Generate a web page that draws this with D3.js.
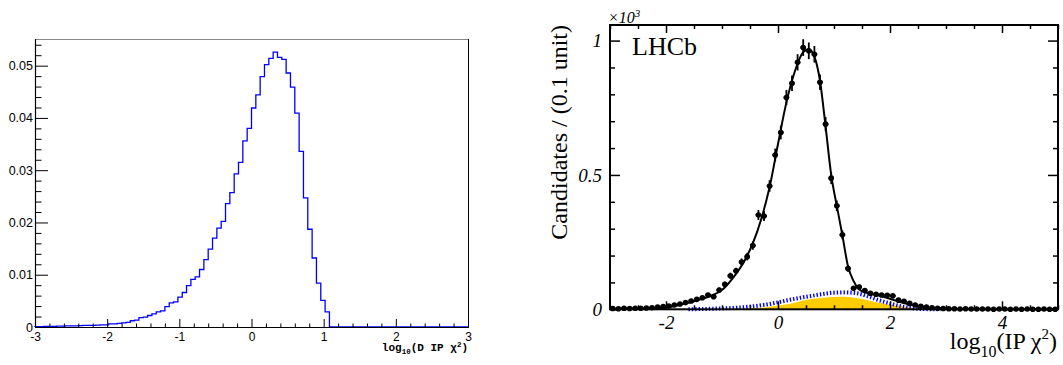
<!DOCTYPE html>
<html>
<head>
<meta charset="utf-8">
<script src="https://cdn.jsdelivr.net/npm/d3@7"></script>
<style>
  html, body { margin: 0; padding: 0; background: #fff; }
  svg { display: block; }
</style>
</head>
<body>
<svg id="chart" width="1063" height="365"></svg>
<script>
// ---------------- Left panel: normalised log10(D IP chi2) distribution ----------------
const histLow = -3, histBinWidth = 0.06;
const histValues = [
  0.00005, 0.00005, 0.0001, 0.0001, 0.0001, 0.00015, 0.00015, 0.0002, 0.0002, 0.0002,
  0.00025, 0.0003, 0.0003, 0.0003, 0.00035, 0.0004, 0.0004, 0.0006, 0.0006, 0.0007,
  0.0008, 0.0009, 0.0012, 0.0013, 0.0018, 0.0019, 0.0022, 0.0025, 0.0029, 0.0031,
  0.0039, 0.0046, 0.0048, 0.0057, 0.0066, 0.0079, 0.0091, 0.0096, 0.0110, 0.0129,
  0.0149, 0.0170, 0.0189, 0.0202, 0.0236, 0.0257, 0.0293, 0.0315, 0.0356, 0.0380,
  0.0419, 0.0444, 0.0479, 0.0502, 0.0514, 0.0526, 0.0516, 0.0512, 0.0486, 0.0459,
  0.0409, 0.0336, 0.0247, 0.0187, 0.0132, 0.0084, 0.0051, 0.0029, 0, 0,
  0, 0, 0, 0, 0, 0, 0, 0, 0, 0,
  0, 0, 0, 0, 0, 0, 0, 0, 0, 0,
  0, 0, 0, 0, 0, 0, 0, 0, 0, 0
];
const leftYTicks = [0, 0.01, 0.02, 0.03, 0.04, 0.05];
const leftYTickLabels = ["0", "0.01", "0.02", "0.03", "0.04", "0.05"];
const leftXTicks = [-3, -2, -1, 0, 1, 2, 3];
const leftXTickLabels = ["-3", "-2", "-1", "0", "1", "2", "3"];

// ---------------- Right panel: LHCb fit to log10(IP chi2) ----------------
const dataLow = -3, dataBinWidth = 0.1;
// candidates per 0.1 unit, in units of 10^3
const candidates = [
  0.003, 0.002, 0.004, 0.003, 0.004, 0.004, 0.005, 0.006, 0.008, 0.010,
  0.012, 0.016, 0.020, 0.025, 0.031, 0.037, 0.043, 0.053, 0.047, 0.072,
  0.093, 0.125, 0.143, 0.176, 0.196, 0.237, 0.351, 0.347, 0.459, 0.574,
  0.658, 0.788, 0.841, 0.919, 0.974, 0.962, 0.949, 0.845, 0.689, 0.488,
  0.385, 0.277, 0.152, 0.078, 0.083, 0.070, 0.060, 0.056, 0.053, 0.052,
  0.050, 0.034, 0.030, 0.022, 0.016, 0.011, 0.008, 0.006, 0.004, 0.003,
  0.002, 0.002, 0.001, 0.002, 0.001, 0.001, 0.001, 0.001, 0.000, 0.001,
  0.001, 0.000, 0.001, 0.000, 0.001, 0.000, 0.000, 0.001, 0.000, 0.000
];
// total fit
const fitX = [-3.0, -2.5, -2.2, -2.0, -1.8, -1.6, -1.4, -1.2, -1.0, -0.8, -0.6, -0.45, -0.3, -0.15,
  0.0, 0.15, 0.3, 0.45, 0.55, 0.65, 0.75, 0.85, 0.95, 1.05, 1.15, 1.25, 1.35, 1.45, 1.6, 1.8,
  2.0, 2.2, 2.4, 2.6, 2.8, 3.0, 3.5, 4.0, 5.0];
const fitY = [0.001, 0.002, 0.004, 0.007, 0.014, 0.024, 0.036, 0.050, 0.072, 0.118, 0.180, 0.245, 0.335, 0.455,
  0.615, 0.770, 0.885, 0.957, 0.968, 0.940, 0.850, 0.680, 0.500, 0.385, 0.275, 0.160, 0.105, 0.074, 0.060, 0.051,
  0.039, 0.026, 0.015, 0.008, 0.004, 0.002, 0.001, 0.0005, 0.0003];
// combinatorial background component (dashed)
const bkgX = [-1.6, -1.2, -0.8, -0.5, -0.2, 0.0, 0.2, 0.4, 0.6, 0.8, 1.0, 1.2, 1.4, 1.6, 1.8, 2.0, 2.2, 2.4, 2.6, 2.9];
const bkgY = [0.000, 0.002, 0.005, 0.010, 0.018, 0.026, 0.035, 0.043, 0.050, 0.057, 0.062, 0.063, 0.060, 0.049, 0.034, 0.022, 0.011, 0.004, 0.001, 0.000];
// secondary component (filled)
const secX = [-0.8, -0.5, -0.2, 0.0, 0.2, 0.4, 0.6, 0.8, 1.0, 1.2, 1.4, 1.6, 1.8, 2.0, 2.2, 2.4, 2.6, 2.8];
const secY = [0.000, 0.003, 0.008, 0.014, 0.020, 0.030, 0.038, 0.043, 0.046, 0.047, 0.042, 0.034, 0.024, 0.017, 0.011, 0.006, 0.003, 0.000];

const rightXTicks = [-2, 0, 2, 4];
const rightXTickLabels = ["-2", "0", "2", "4"];
const rightYTicks = [0, 0.5, 1];
const rightYTickLabels = ["0", "0.5", "1"];

const svg = d3.select("#chart");
svg.append("rect").attr("width", 1063).attr("height", 365).attr("fill", "#fff");

// ===================== left panel =====================
const L = { left: 35, right: 468, top: 39, bottom: 327 };
const xL = d3.scaleLinear().domain([-3, 3]).range([L.left, L.right]);
const yL = d3.scaleLinear().domain([0, 0.0551]).range([L.bottom, L.top]);

const gL = svg.append("g");

// frame
gL.append("line").attr("x1", L.left).attr("x2", L.right).attr("y1", L.top + 0.5).attr("y2", L.top + 0.5)
  .attr("stroke", "#888").attr("stroke-width", 1);
gL.append("line").attr("x1", L.right + 0.5).attr("x2", L.right + 0.5).attr("y1", L.top).attr("y2", L.bottom)
  .attr("stroke", "#000").attr("stroke-width", 1);

// histogram as a step line
const histPts = [[histLow, 0]];
histValues.forEach((v, i) => histPts.push([histLow + i * histBinWidth, v]));
histPts.push([histLow + histValues.length * histBinWidth, histValues[histValues.length - 1]]);
gL.append("path")
  .attr("d", d3.line().x(d => xL(d[0])).y(d => yL(d[1])).curve(d3.curveStepAfter)(histPts))
  .attr("fill", "none").attr("stroke", "#0000ff").attr("stroke-width", 1.3);

// axes
function styleAxis(g, font, size, style) {
  g.attr("font-family", font).attr("font-size", size);
  g.selectAll(".domain").remove();
  g.selectAll("line").attr("stroke", "#000");
  if (style) g.selectAll("text").attr("font-style", style);
  g.selectAll("text").attr("fill", "#000");
}
const sansFont = "'Liberation Sans', Arial, Helvetica, sans-serif";
const serifFont = "'Liberation Serif', 'Times New Roman', serif";

const lyMinor = d3.range(0, 0.0551, 0.002).filter(v => Math.abs(v / 0.01 - Math.round(v / 0.01)) > 1e-6);
gL.append("g").attr("transform", `translate(${L.left},0)`)
  .call(d3.axisLeft(yL).tickValues(lyMinor).tickSizeInner(-6.5).tickSizeOuter(0).tickFormat(""))
  .call(g => styleAxis(g, sansFont, 12));
gL.append("g").attr("transform", `translate(${L.left},0)`)
  .call(d3.axisLeft(yL).tickValues(leftYTicks).tickSizeInner(-13).tickSizeOuter(0).tickPadding(2)
    .tickFormat((d, i) => leftYTickLabels[i]))
  .call(g => styleAxis(g, sansFont, 12.5));
// keep the zero label clear of the x labels below it
gL.selectAll("text").filter(function () { return this.textContent === "0" && d3.select(this.parentNode).attr("transform") === `translate(0,${yL(0)})`; })
  .attr("dy", "0.2em");

const lxMinor = d3.range(-3, 3.001, 0.2).filter(v => Math.abs(v - Math.round(v)) > 1e-6);
gL.append("g").attr("transform", `translate(0,${L.bottom})`)
  .call(d3.axisBottom(xL).tickValues(lxMinor).tickSizeInner(-3.5).tickSizeOuter(0).tickFormat(""))
  .call(g => styleAxis(g, sansFont, 12));
gL.append("g").attr("transform", `translate(0,${L.bottom})`)
  .call(d3.axisBottom(xL).tickValues(leftXTicks).tickSizeInner(-8).tickSizeOuter(0).tickPadding(5)
    .tickFormat((d, i) => leftXTickLabels[i]))
  .call(g => styleAxis(g, sansFont, 12));

// axis lines
gL.append("line").attr("x1", L.left + 0.5).attr("x2", L.left + 0.5).attr("y1", L.top).attr("y2", L.bottom)
  .attr("stroke", "#000").attr("stroke-width", 1.2);
gL.append("line").attr("x1", L.left).attr("x2", L.right + 1).attr("y1", L.bottom + 0.5).attr("y2", L.bottom + 0.5)
  .attr("stroke", "#000").attr("stroke-width", 1.2);

// x title
const tL = gL.append("text").attr("x", L.right).attr("y", 351).attr("text-anchor", "end")
  .attr("font-family", "'Liberation Mono', 'Courier New', monospace").attr("font-weight", "bold")
  .attr("font-size", 11).attr("fill", "#000");
tL.append("tspan").text("log");
tL.append("tspan").attr("font-size", 7.5).attr("dy", 3).text("10");
tL.append("tspan").attr("font-size", 11).attr("dy", -3).text("(D IP \u03c7");
tL.append("tspan").attr("font-size", 7.5).attr("dy", -4).text("2");
tL.append("tspan").attr("font-size", 11).attr("dy", 4).text(")");

// ===================== right panel =====================
const R = { left: 610, right: 1058, top: 25, bottom: 309.3 };
const xR = d3.scaleLinear().domain([-3, 5]).range([R.left, R.right]);
const yR = d3.scaleLinear().domain([0, 1.058]).range([R.bottom, R.top]);
const gR = svg.append("g");

// filled component
gR.append("path")
  .attr("d", d3.area().x((d, i) => xR(secX[i])).y0(yR(0)).y1(d => yR(d)).curve(d3.curveMonotoneX)(secY))
  .attr("fill", "#ffcc00").attr("stroke", "none");

// dashed background component
gR.append("path")
  .attr("d", d3.line().x((d, i) => xR(bkgX[i])).y(d => yR(d)).curve(d3.curveMonotoneX)(bkgY))
  .attr("fill", "none").attr("stroke", "#0000ff").attr("stroke-width", 4)
  .attr("stroke-dasharray", "1.4,2");

// data points with error bars
const pts = candidates.map((v, i) => ({
  x: dataLow + (i + 0.5) * dataBinWidth,
  y: v,
  e: Math.sqrt(v * 1000) / 1000
}));
const gP = gR.append("g").attr("stroke", "#000").attr("stroke-width", 1.8);
gP.selectAll("line.h").data(pts).join("line").attr("class", "h")
  .attr("x1", d => xR(d.x - dataBinWidth / 2)).attr("x2", d => xR(d.x + dataBinWidth / 2))
  .attr("y1", d => yR(d.y)).attr("y2", d => yR(d.y));
gP.selectAll("line.v").data(pts).join("line").attr("class", "v")
  .attr("x1", d => xR(d.x)).attr("x2", d => xR(d.x))
  .attr("y1", d => yR(d.y - d.e)).attr("y2", d => yR(d.y + d.e));
gR.selectAll("circle").data(pts).join("circle")
  .attr("cx", d => xR(d.x)).attr("cy", d => yR(d.y)).attr("r", 2.8).attr("fill", "#000");

// total fit
gR.append("path")
  .attr("d", d3.line().x((d, i) => xR(fitX[i])).y(d => yR(d)).curve(d3.curveMonotoneX)(fitY))
  .attr("fill", "none").attr("stroke", "#000").attr("stroke-width", 2);

// ticks on all four sides
const rxMinor = d3.range(-3, 5.001, 0.5).filter(v => !rightXTicks.includes(v));
const ryMinor = d3.range(0.1, 1.05, 0.1).filter(v => Math.abs(v - 0.5) > 1e-6 && Math.abs(v - 1) > 1e-6);

gR.append("g").attr("transform", `translate(0,${R.bottom})`)
  .call(d3.axisBottom(xR).tickValues(rxMinor).tickSizeInner(-4).tickSizeOuter(0).tickFormat(""))
  .call(g => styleAxis(g, serifFont, 20));
gR.append("g").attr("transform", `translate(0,${R.bottom})`)
  .call(d3.axisBottom(xR).tickValues(rightXTicks).tickSizeInner(-8).tickSizeOuter(0).tickPadding(6.5)
    .tickFormat((d, i) => rightXTickLabels[i]))
  .call(g => styleAxis(g, serifFont, 19, "italic"));
gR.append("g").attr("transform", `translate(0,${R.top})`)
  .call(d3.axisTop(xR).tickValues(rxMinor).tickSizeInner(-4).tickSizeOuter(0).tickFormat(""))
  .call(g => styleAxis(g, serifFont, 20));
gR.append("g").attr("transform", `translate(0,${R.top})`)
  .call(d3.axisTop(xR).tickValues(rightXTicks).tickSizeInner(-8).tickSizeOuter(0).tickFormat(""))
  .call(g => styleAxis(g, serifFont, 20));

gR.append("g").attr("transform", `translate(${R.left},0)`)
  .call(d3.axisLeft(yR).tickValues(ryMinor).tickSizeInner(-5).tickSizeOuter(0).tickFormat(""))
  .call(g => styleAxis(g, serifFont, 20));
gR.append("g").attr("transform", `translate(${R.left},0)`)
  .call(d3.axisLeft(yR).tickValues(rightYTicks).tickSizeInner(-10).tickSizeOuter(0).tickPadding(8)
    .tickFormat((d, i) => rightYTickLabels[i]))
  .call(g => styleAxis(g, serifFont, 19, "italic"));
gR.append("g").attr("transform", `translate(${R.right},0)`)
  .call(d3.axisRight(yR).tickValues(ryMinor).tickSizeInner(-5).tickSizeOuter(0).tickFormat(""))
  .call(g => styleAxis(g, serifFont, 20));
gR.append("g").attr("transform", `translate(${R.right},0)`)
  .call(d3.axisRight(yR).tickValues(rightYTicks).tickSizeInner(-10).tickSizeOuter(0).tickFormat(""))
  .call(g => styleAxis(g, serifFont, 20));
gR.selectAll("g line").filter(function () { return !this.classList.contains("h") && !this.classList.contains("v"); })
  .attr("stroke-width", 1.5);

// frame
gR.append("rect").attr("x", R.left).attr("y", R.top)
  .attr("width", R.right - R.left).attr("height", R.bottom - R.top)
  .attr("fill", "none").attr("stroke", "#000").attr("stroke-width", 2);

// exponent label
const ex = gR.append("text").attr("x", 608).attr("y", 23)
  .attr("font-family", serifFont).attr("font-style", "italic").attr("font-size", 16).attr("fill", "#000");
ex.append("tspan").text("\u00d710");
ex.append("tspan").attr("font-size", 11).attr("dy", -6).text("3");

// LHCb label
gR.append("text").attr("x", 632).attr("y", 55)
  .attr("font-family", serifFont).attr("font-size", 26).attr("fill", "#000").text("LHCb");

// y title
gR.append("text").attr("transform", `translate(567,${R.top}) rotate(-90)`)
  .attr("text-anchor", "end")
  .attr("font-family", serifFont).attr("font-size", 24).attr("fill", "#000")
  .text("Candidates / (0.1 unit)");

// x title
const tR = gR.append("text").attr("x", 1057).attr("y", 349).attr("text-anchor", "end")
  .attr("font-family", serifFont).attr("font-size", 24).attr("fill", "#000");
tR.append("tspan").text("log");
tR.append("tspan").attr("font-size", 16).attr("dy", 8).text("10");
tR.append("tspan").attr("font-size", 24).attr("dy", -8).text("(IP \u03c7");
tR.append("tspan").attr("font-size", 15).attr("dy", -10).text("2");
tR.append("tspan").attr("font-size", 24).attr("dy", 10).text(")");
</script>
</body>
</html>
